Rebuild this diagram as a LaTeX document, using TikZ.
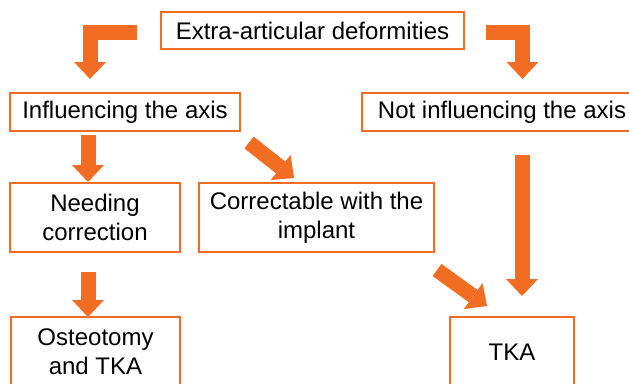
\documentclass[tikz,border=0pt]{standalone}
\usepackage{fontspec}
\setmainfont{Liberation Sans}
\usetikzlibrary{arrows.meta}
\definecolor{cOrange}{HTML}{F26D21}
\tikzset{
    box/.style={draw=cOrange, line width=1.3pt, fill=white, align=center, inner sep=0pt,
        font=\fontsize{24}{29}\selectfont},
    fatarrow/.style={draw=cOrange, line width=15pt,
        -{Triangle[width=32pt,length=17pt,line width=0pt,fill=cOrange]}}
}
\begin{document}
\begin{tikzpicture}[x=1pt,y=-1pt]
\clip (0,0) rectangle (629,383);

\node[box,minimum width=303pt,minimum height=37pt] (nTop) at (312.5,30.5) {Extra-articular deformities};
\node[box,minimum width=230pt,minimum height=38pt] (nInfl) at (125,112) {Influencing the axis};
\node[box,minimum width=280pt,minimum height=38pt] (nNotInfl) at (502,112) {Not influencing the axis};
\node[box,minimum width=170pt,minimum height=69pt] (nNeed) at (95,217.5) {Needing\\correction};
\node[box,minimum width=235pt,minimum height=69pt] (nCorr) at (316.5,217.5) {Correctable with the\\implant};
\node[box,minimum width=169pt,minimum height=70pt] (nOst) at (95.5,352) {Osteotomy\\and TKA};
\node[box,minimum width=124pt,minimum height=70pt] (nTKA) at (512,352) {TKA};

%arrows from the top box
\coordinate (cAPt) at (137,32.5);
\coordinate (cBPt) at (90,79);
\coordinate (cCPt) at (486,32.5);
\coordinate (cDPt) at (522.5,79);

\draw[fatarrow] (cAPt) -| (cBPt);
\draw[fatarrow] (cCPt) -| (cDPt);

%the other arrows
\coordinate (cEPt) at (88,135);
\coordinate (cFPt) at (88,182);
\coordinate (cGPt) at (249,142.5);
\coordinate (cHPt) at (294,178);
\coordinate (cIPt) at (522,155);
\coordinate (cJPt) at (522,296);
\coordinate (cKPt) at (88,272);
\coordinate (cLPt) at (88,317);
\coordinate (cMPt) at (437,270);
\coordinate (cNPt) at (487,306);

\foreach \s/\e in
{cEPt/cFPt,
    cGPt/cHPt,
    cIPt/cJPt,
    cKPt/cLPt,
    cMPt/cNPt}
{
    \draw[fatarrow] (\s) -- (\e);
};

\end{tikzpicture}
\end{document}
